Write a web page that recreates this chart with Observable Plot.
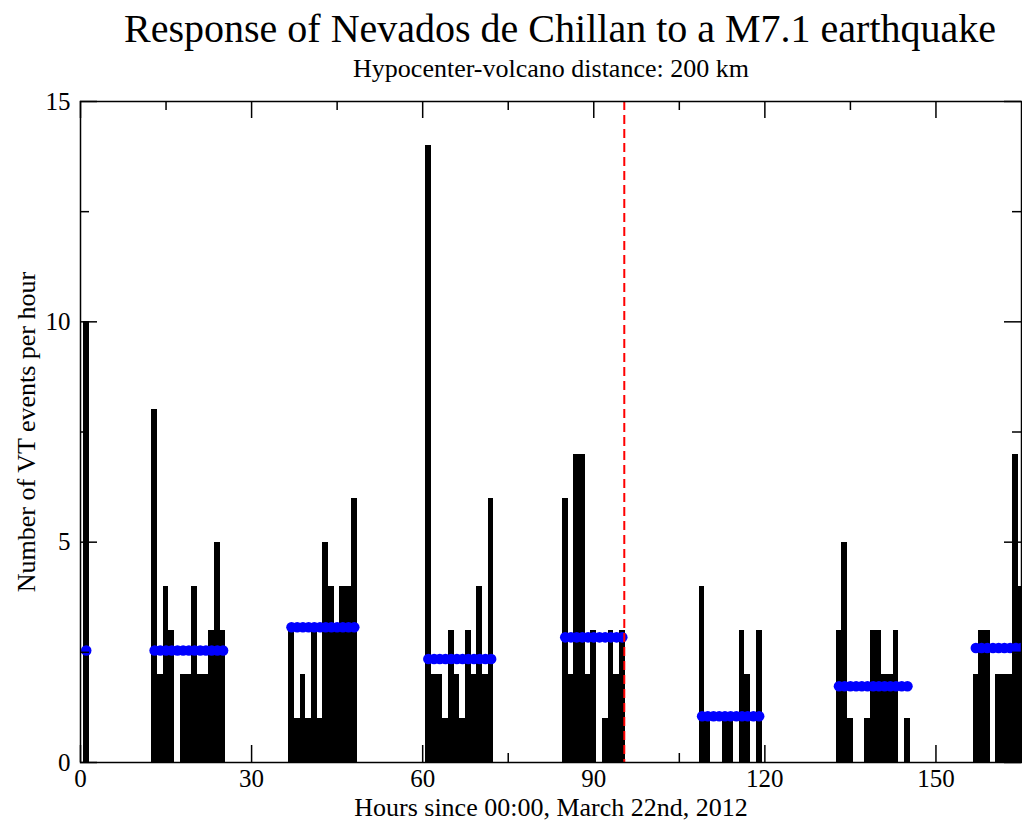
<!DOCTYPE html>
<html>
<head>
<meta charset="utf-8">
<script src="https://cdn.jsdelivr.net/npm/d3@7"></script>
<script src="https://cdn.jsdelivr.net/npm/@observablehq/plot@0.6"></script>
<style>
  html, body { margin: 0; padding: 0; background: #fff; overflow: hidden; }
</style>
</head>
<body>
<div id="chart"></div>
<script>
// ---- Data ----
const titleText = "Response of Nevados de Chillan to a M7.1 earthquake";
const subtitleText = "Hypocenter-volcano distance: 200 km";
const xLabelText = "Hours since 00:00, March 22nd, 2012";
const yLabelText = "Number of VT events per hour";

// hour index of each bar
const vtHours = [
  1,
  13, 14, 15, 16, 17, 18, 19, 20, 21, 22, 23, 24, 25,
  37, 38, 39, 40, 41, 42, 43, 44, 45, 46, 47, 48,
  61, 62, 63, 64, 65, 66, 67, 68, 69, 70, 71, 72,
  85, 86, 87, 88, 89, 90, 91, 92, 93, 94, 95,
  109, 110, 111, 112, 113, 114, 115, 116, 117, 118, 119,
  133, 134, 135, 136, 137, 138, 139, 140, 141, 142, 143, 144, 145,
  157, 158, 159, 160, 161, 162, 163, 164, 165
];
// number of VT events in that hour
const vtCounts = [
  10,
  8, 2, 4, 3, 0, 2, 2, 4, 2, 2, 3, 5, 3,
  3, 1, 2, 1, 3, 1, 5, 4, 3, 4, 4, 6,
  14, 2, 2, 1, 3, 2, 1, 3, 2, 4, 2, 6,
  6, 2, 7, 7, 2, 3, 0, 1, 3, 2, 3,
  4, 1, 0, 0, 1, 1, 0, 3, 2, 0, 3,
  3, 5, 1, 0, 0, 1, 3, 3, 2, 2, 3, 0, 1,
  2, 3, 3, 0, 2, 2, 2, 7, 4
];

// averaging windows (blue dots)
const windowStarts = [1, 13, 37, 61, 85, 109, 133, 157];
const windowEnds   = [1, 25, 48, 72, 95, 119, 145, 168];
const windowMeans  = [2.54, 2.54, 3.07, 2.35, 2.84, 1.05, 1.73, 2.6];

// earthquake time (hours)
const quakeHour = 95.35;

// axis ticks
const xMajorTicks = [0, 30, 60, 90, 120, 150];
const xMinorTicks = [15, 45, 75, 105, 135];
const yMajorTicks = [0, 5, 10, 15];
const yMinorTicks = [2.5, 7.5, 12.5];

// ---- Build tables ----
const bars = vtHours.map((h, i) => ({h, c: vtCounts[i]}));
const dots = [];
vtHours.forEach(h => {
  const w = windowStarts.findIndex((s, k) => h >= s && h <= windowEnds[k]);
  if (w >= 0) dots.push({h, m: windowMeans[w]});
});

// ---- Layout ----
const W = 1022, H = 823;
const mL = 80, mR = 1, mT = 101, mB = 61;
const plotW = W - mL - mR, plotH = H - mT - mB;
const majorLen = 17, minorLen = 9;
const FONT = "'Liberation Serif', 'Times New Roman', Times, serif";

const chart = Plot.plot({
  width: W, height: H,
  marginLeft: mL, marginRight: mR, marginTop: mT, marginBottom: mB,
  style: {fontFamily: FONT, fontSize: "25px", background: "white", color: "black"},
  x: {domain: [0, 165]},
  y: {domain: [0, 15]},
  marks: [
    Plot.rect(bars, {
      x1: d => d.h - 0.5, x2: d => d.h + 0.5, y1: 0, y2: "c",
      fill: "black", clip: true, shapeRendering: "crispEdges"
    }),
    Plot.dot(dots, {x: "h", y: "m", r: 5.3, fill: "#0000ff", stroke: "none", clip: true}),
    Plot.ruleX([quakeHour], {stroke: "#ff0000", strokeWidth: 2, strokeDasharray: "9,5"}),
    // y ticks, left & right, pointing inward
    Plot.tickY(yMajorTicks, {y: d => d, insetRight: plotW - majorLen, stroke: "black", strokeWidth: 1.5}),
    Plot.tickY(yMajorTicks, {y: d => d, insetLeft: plotW - majorLen, stroke: "black", strokeWidth: 1.5}),
    Plot.tickY(yMinorTicks, {y: d => d, insetRight: plotW - minorLen, stroke: "black", strokeWidth: 1.5}),
    Plot.tickY(yMinorTicks, {y: d => d, insetLeft: plotW - minorLen, stroke: "black", strokeWidth: 1.5}),
    // x ticks, bottom & top, pointing inward
    Plot.tickX(xMajorTicks, {x: d => d, insetTop: plotH - majorLen, stroke: "black", strokeWidth: 1.5}),
    Plot.tickX(xMajorTicks, {x: d => d, insetBottom: plotH - majorLen, stroke: "black", strokeWidth: 1.5}),
    Plot.tickX(xMinorTicks, {x: d => d, insetTop: plotH - minorLen, stroke: "black", strokeWidth: 1.5}),
    Plot.tickX(xMinorTicks, {x: d => d, insetBottom: plotH - minorLen, stroke: "black", strokeWidth: 1.5}),
    Plot.frame({stroke: "black", strokeWidth: 1.5}),
    Plot.axisX({ticks: xMajorTicks, tickSize: 0, tickPadding: 7, fontSize: 25, label: null, tickFormat: d => String(d)}),
    Plot.axisY({ticks: yMajorTicks, tickSize: 0, tickPadding: 10, fontSize: 25, label: null, tickFormat: d => String(d)}),
    // titles and axis labels
    Plot.text([titleText], {text: d => d, frameAnchor: "top", dx: 9, dy: -60, lineAnchor: "bottom", fontSize: 40, fill: "black"}),
    Plot.text([subtitleText], {text: d => d, frameAnchor: "top", dy: -25, lineAnchor: "bottom", fontSize: 26, fill: "black"}),
    Plot.text([xLabelText], {text: d => d, frameAnchor: "bottom", dy: 53, lineAnchor: "bottom", fontSize: 26, fill: "black"}),
    Plot.text([yLabelText], {text: d => d, frameAnchor: "left", textAnchor: "middle", dx: -46, rotate: -90, lineAnchor: "bottom", fontSize: 26, fill: "black"})
  ]
});
document.getElementById("chart").appendChild(chart);
</script>
</body>
</html>
